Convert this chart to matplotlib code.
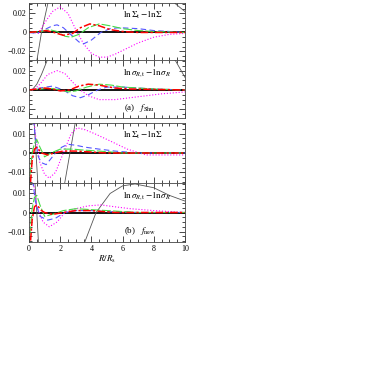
import matplotlib
matplotlib.use("Agg")
import matplotlib.pyplot as plt
from matplotlib.ticker import MultipleLocator

plt.rcParams['font.family'] = ['Liberation Serif', 'DejaVu Serif']
plt.rcParams['mathtext.fontset'] = 'stix'

# ---- data (R/R_s, value) ----
# panel a1: lnSigma_t - lnSigma, f_Shu
a1_black = ([0.3, 0.5, 0.8, 1.2, 2.0, 4.0, 6.0, 8.0, 9.4, 10.0],
            [-0.07, -0.03, 0.0, 0.03, 0.07, 0.10, 0.09, 0.06, 0.03, 0.022])
a1_mag = ([0.0, 0.3, 0.6, 1.0, 1.5, 2.0, 2.5, 3.0, 3.5, 4.0, 4.5, 5.0, 5.5, 6.0, 7.0, 8.0, 9.0, 10.0],
          [0.0, 0.0, -0.001, 0.010, 0.022, 0.027, 0.020, 0.003, -0.012, -0.022, -0.026, -0.026, -0.023, -0.019, -0.011, -0.005, -0.002, -0.001])
a1_blue = ([0.0, 0.5, 1.0, 1.5, 1.8, 2.2, 2.8, 3.2, 3.5, 4.0, 4.6, 5.2, 5.8, 7.0, 8.0, 9.0, 10.0],
           [0.0, -0.001, 0.003, 0.007, 0.008, 0.005, -0.004, -0.010, -0.012, -0.008, 0.0, 0.004, 0.005, 0.004, 0.002, 0.001, 0.0])
a1_green = ([0.0, 0.8, 1.3, 1.8, 2.3, 2.7, 3.2, 3.8, 4.5, 5.2, 6.0, 7.0, 8.0, 10.0],
            [0.0, 0.001, 0.003, 0.001, -0.004, -0.005, -0.002, 0.005, 0.009, 0.007, 0.004, 0.002, 0.001, 0.0])
a1_red = ([0.0, 0.6, 1.1, 1.6, 2.2, 2.8, 3.3, 3.9, 4.5, 5.2, 6.0, 7.0, 10.0],
          [0.0, 0.001, 0.002, 0.0, -0.003, -0.001, 0.005, 0.009, 0.007, 0.003, 0.001, 0.0, 0.0])

# panel a2: ln sigma_R,t - ln sigma_R, f_Shu
a2_black = ([0.2, 0.5, 0.8, 1.15, 2.0, 4.0, 6.0, 8.0, 9.4, 10.0],
            [0.0, 0.006, 0.016, 0.03, 0.06, 0.09, 0.08, 0.055, 0.03, 0.013])
a2_mag = ([0.0, 0.3, 0.7, 1.2, 1.8, 2.3, 2.8, 3.3, 3.8, 4.5, 5.5, 6.5, 7.5, 8.5, 10.0],
          [0.0, 0.0, 0.006, 0.016, 0.020, 0.017, 0.008, 0.0, -0.006, -0.010, -0.010, -0.008, -0.006, -0.004, -0.002])
a2_blue = ([0.0, 0.7, 1.5, 2.2, 2.8, 3.3, 3.8, 4.4, 5.0, 6.0, 7.0, 8.0, 10.0],
           [0.0, 0.002, 0.004, 0.0, -0.006, -0.008, -0.005, 0.0, 0.003, 0.003, 0.002, 0.001, 0.0])
a2_green = ([0.0, 0.8, 1.3, 2.0, 2.5, 3.0, 3.7, 4.5, 5.3, 6.0, 7.0, 8.0, 10.0],
            [0.0, 0.001, 0.002, 0.0, -0.002, -0.001, 0.003, 0.006, 0.005, 0.003, 0.002, 0.001, 0.0])
a2_red = ([0.0, 0.5, 1.0, 1.5, 2.0, 2.6, 3.2, 3.8, 4.5, 5.5, 6.5, 10.0],
          [0.0, 0.001, 0.002, 0.001, -0.001, 0.0, 0.004, 0.006, 0.005, 0.002, 0.001, 0.0])

# panel b1: lnSigma_t - lnSigma, f_new
b1_black = ([0.05, 0.3, 0.45, 0.6, 0.8, 1.5, 2.3, 2.95, 3.5, 5.0],
            [0.06, 0.02, 0.0, -0.02, -0.04, -0.05, -0.015, 0.015, 0.04, 0.08])
b1_mag = ([0.05, 0.2, 0.4, 0.7, 1.0, 1.3, 1.7, 2.2, 2.7, 3.1, 3.6, 4.2, 5.0, 6.3, 7.5, 10.0],
          [0.05, 0.03, 0.01, -0.005, -0.011, -0.013, -0.010, 0.0, 0.010, 0.013, 0.012, 0.010, 0.007, 0.002, -0.001, -0.001])
b1_blue = ([0.05, 0.2, 0.4, 0.6, 0.8, 1.1, 1.7, 2.1, 2.5, 3.0, 3.6, 4.5, 5.5, 7.0, 10.0],
           [0.04, 0.025, 0.008, -0.002, -0.005, -0.006, 0.0, 0.003, 0.0045, 0.004, 0.003, 0.002, 0.001, 0.0, 0.0])
b1_green = ([0.05, 0.2, 0.35, 0.5, 0.7, 1.0, 1.4, 2.0, 2.8, 3.5, 4.5, 6.0, 10.0],
            [-0.012, 0.0, 0.005, 0.007, 0.003, -0.002, 0.0, 0.002, 0.002, 0.0015, 0.001, 0.0, 0.0])
b1_red = ([0.02, 0.1, 0.2, 0.35, 0.5, 0.8, 1.2, 1.6, 2.2, 3.0, 4.0, 5.0, 10.0],
          [-0.03, -0.015, -0.004, 0.002, 0.003, 0.0, -0.001, 0.0, 0.001, 0.001, 0.0005, 0.0, 0.0])

# panel b2: ln sigma_R,t - ln sigma_R, f_new
b2_black = ([0.2, 0.5, 0.7, 1.5, 3.0, 3.6, 4.3, 5.2, 6.0, 6.8, 8.0, 9.0, 10.0],
            [0.04, 0.0, -0.03, -0.06, -0.03, -0.015, 0.0, 0.010, 0.014, 0.015, 0.013, 0.009, 0.006])
b2_mag = ([0.05, 0.2, 0.5, 0.9, 1.3, 1.8, 2.3, 3.0, 3.8, 4.6, 5.5, 6.5, 8.0, 10.0],
          [0.04, 0.02, 0.003, -0.005, -0.0075, -0.005, 0.0, 0.002, 0.0035, 0.004, 0.003, 0.002, 0.001, 0.0])
b2_blue = ([0.05, 0.2, 0.4, 0.7, 1.2, 1.7, 2.3, 3.0, 4.0, 5.0, 7.0, 10.0],
           [0.04, 0.02, 0.006, -0.002, -0.004, -0.003, 0.0, 0.001, 0.001, 0.0005, 0.0, 0.0])
b2_green = ([0.05, 0.2, 0.35, 0.5, 0.7, 1.0, 1.5, 2.2, 3.0, 4.0, 5.0, 7.0, 10.0],
            [-0.012, 0.002, 0.008, 0.009, 0.004, -0.002, -0.001, 0.001, 0.002, 0.0015, 0.001, 0.0, 0.0])
b2_red = ([0.02, 0.1, 0.2, 0.35, 0.5, 0.8, 1.0, 1.5, 2.2, 3.0, 4.0, 5.5, 10.0],
          [-0.03, -0.015, -0.004, 0.003, 0.004, 0.001, 0.0, -0.001, 0.0, 0.001, 0.001, 0.0, 0.0])

labels = [r'$\ln\Sigma_{\rm t}-\ln\Sigma$', r'$\ln\sigma_{R,{\rm t}}-\ln\sigma_R$',
          r'$\ln\Sigma_{\rm t}-\ln\Sigma$', r'$\ln\sigma_{R,{\rm t}}-\ln\sigma_R$']
tags = [None, r'(a)   $f_{\rm Shu}$', None, r'(b)   $f_{\rm new}$']
ylims = [(-0.029, 0.031), (-0.029, 0.031), (-0.0155, 0.0155), (-0.0155, 0.0155)]
yticks = [[-0.02, 0, 0.02], [-0.02, 0, 0.02], [-0.01, 0, 0.01], [-0.01, 0, 0.01]]
ytlabels = [['\u22120.02', '0', '0.02'], ['\u22120.02', '0', '0.02'],
            ['\u22120.01', '0', '0.01'], ['\u22120.01', '0', '0.01']]
panels = [(a1_black, a1_mag, a1_blue, a1_green, a1_red),
          (a2_black, a2_mag, a2_blue, a2_green, a2_red),
          (b1_black, b1_mag, b1_blue, b1_green, b1_red),
          (b2_black, b2_mag, b2_blue, b2_green, b2_red)]

fig = plt.figure(figsize=(3.82, 3.82), dpi=100)
W = 382.0
boxes = [(3, 60), (60, 118), (123, 183), (183, 242)]  # top, bottom in pixels
left, right = 29, 185

for i, (top, bot) in enumerate(boxes):
    ax = fig.add_axes([left / W, 1 - bot / W, (right - left) / W, (bot - top) / W])
    blk, mag, blu, grn, red = panels[i]
    ax.axhline(0, color='black', lw=1.3, zorder=1)
    ax.plot(*blk, color='#555555', lw=0.6)
    ax.plot(*mag, color='magenta', lw=0.8, ls=':')
    ax.plot(*blu, color='#5555ff', lw=0.8, dashes=(5, 3))
    ax.plot(*grn, color='#44dd44', lw=0.8, dashes=(8, 2))
    ax.plot(*red, color='red', lw=1.1, dashes=(5, 1.5, 1.5, 1.5))
    ax.set_xlim(0, 10)
    ax.set_ylim(*ylims[i])
    ax.set_yticks(yticks[i])
    ax.set_yticklabels(ytlabels[i])
    ax.xaxis.set_major_locator(MultipleLocator(2))
    ax.xaxis.set_minor_locator(MultipleLocator(0.5))
    ax.yaxis.set_minor_locator(MultipleLocator(yticks[i][2] / 4))
    ax.tick_params(which='both', direction='in', top=True, right=True,
                   labelsize=5.8, width=0.5, pad=2)
    ax.tick_params(which='major', length=4)
    ax.tick_params(which='minor', length=2)
    for s in ax.spines.values():
        s.set_linewidth(0.6)
        s.set_color('#444444')
    ax.text(0.6, 0.88, labels[i], transform=ax.transAxes, fontsize=6.5, va='top')
    if tags[i]:
        ax.text(0.61, 0.18, tags[i], transform=ax.transAxes, fontsize=6.5, va='center')
    if i < 3:
        ax.set_xticklabels([])
    else:
        ax.set_xlabel(r'$R/R_{\rm s}$', fontsize=6.5, labelpad=1)

fig.savefig('out.png', dpi=100)
